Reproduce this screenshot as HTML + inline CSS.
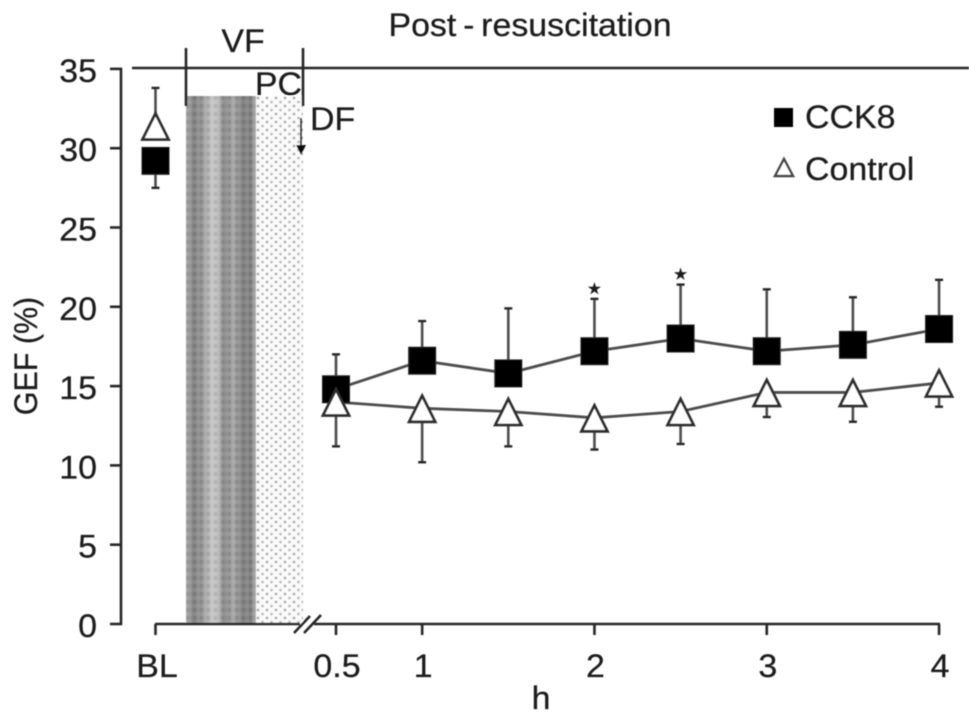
<!DOCTYPE html>
<html lang="en">
<head>
<meta charset="utf-8">
<title>GEF chart</title>
<style>
html,body{margin:0;padding:0;background:#fff;width:969px;height:720px;overflow:hidden}
svg{display:block}
text{font-family:"Liberation Sans",sans-serif;fill:#1c1c1c;stroke:#1c1c1c;stroke-width:0.25}
</style>
</head>
<body>
<svg id="chart" xmlns="http://www.w3.org/2000/svg" width="969" height="720" viewBox="0 0 969 720">
<defs>
<filter id="soft" x="-5%" y="-5%" width="110%" height="110%"><feGaussianBlur stdDeviation="0.55"/></filter>
<linearGradient id="vf-stripes" x1="0" x2="1" y1="0" y2="0">
<stop offset="0" stop-color="#b0b0b0"/>
<stop offset="0.1" stop-color="#858585"/>
<stop offset="0.22" stop-color="#959595"/>
<stop offset="0.35" stop-color="#c2c2c2"/>
<stop offset="0.43" stop-color="#c8c8c8"/>
<stop offset="0.55" stop-color="#8a8a8a"/>
<stop offset="0.68" stop-color="#a8a8a8"/>
<stop offset="0.8" stop-color="#858585"/>
<stop offset="0.93" stop-color="#858585"/>
<stop offset="1" stop-color="#b0b0b0"/>
</linearGradient>
<pattern id="vf-grain" width="7" height="8" patternUnits="userSpaceOnUse" x="186" y="96">
<rect x="0" y="0" width="3" height="4" fill="#000" opacity="0.10"/>
<rect x="3.5" y="4" width="3" height="4" fill="#fff" opacity="0.08"/>
</pattern>
<pattern id="pc-dots" width="9" height="8" patternUnits="userSpaceOnUse" x="256" y="96">
<rect width="9" height="8" fill="#fafafa"/>
<circle cx="2" cy="2" r="1.4" fill="#ababab"/>
<circle cx="6.5" cy="6" r="1.4" fill="#bcbcbc"/>
</pattern>
</defs>
<g id="plot" filter="url(#soft)"></g>
</svg>
<script>
const categories = ['BL', 0.5, 1, 1.5, 2, 2.5, 3, 3.5, 4];
const cck8Values = [29.2, 14.8, 16.6, 15.8, 17.2, 18.0, 17.2, 17.6, 18.6];
const cck8ErrorEnds = [27.5, 17.0, 19.1, 19.9, 20.5, 21.4, 21.1, 20.6, 21.7];
const controlValues = [31.4, 14.0, 13.6, 13.4, 13.0, 13.4, 14.6, 14.6, 15.2];
const controlErrorEnds = [33.8, 11.2, 10.2, 11.2, 11.0, 11.35, 13.05, 12.75, 13.7];
const significant = [false, false, false, false, true, true, false, false, false];
const yTicks = [0, 5, 10, 15, 20, 25, 30, 35];
const xTickLabels = ['BL', 0.5, 1, 2, 3, 4];

const NS = 'http://www.w3.org/2000/svg';
const plot = document.getElementById('plot');
const INK = '#262626';
const LINE = '#4d4d4d';

function xScale(c) {
  return c === 'BL' ? 155.5 : 336 + (c - 0.5) * 172.3;
}
function yScale(v) {
  return 624 - v * 15.86;
}
function make(tag, attrs, text) {
  const el = document.createElementNS(NS, tag);
  for (const k in attrs) el.setAttribute(k, attrs[k]);
  if (text !== undefined) el.textContent = text;
  plot.appendChild(el);
  return el;
}
function line(x1, y1, x2, y2, name, color, width) {
  const el = make('line', { x1, y1, x2, y2, stroke: color || INK, 'stroke-width': width || 2.6 });
  
  
  return el;
}
function label(x, y, str, size, anchor, name) {
  const el = make('text', { 'font-size': size, 'text-anchor': anchor, transform: `translate(${x} ${y}) scale(1.06 1)` }, str);
  
  
  return el;
}
function trianglePoints(cx, cy, halfW, up, down) {
  return `${cx},${cy - up} ${cx + halfW},${cy + down} ${cx - halfW},${cy + down}`;
}

/* shaded phases */
let r = make('rect', { x: 186, y: 96, width: 70, height: 528, fill: 'url(#vf-stripes)' });


r = make('rect', { x: 186, y: 96, width: 70, height: 528, fill: 'url(#vf-grain)' });


r = make('rect', { x: 256, y: 96, width: 47, height: 528, fill: 'url(#pc-dots)' });



/* top line and phase markers */
line(132, 68, 969, 68, 'top-reference-line');
line(186, 48, 186, 106, 'vf-start-marker');
line(303, 48, 303, 106, 'vf-end-marker');

/* y axis */
line(121, 68, 121, 625, 'y-axis-line');
yTicks.forEach(function (t) {
  line(110, yScale(t), 122, yScale(t), 'y-tick-' + t);
  label(97, yScale(t) + 13, String(t), 32, 'end', 'y-tick-label-' + t);
});
const yTitle = make('text', { 'font-size': 32, 'text-anchor': 'middle', transform: 'translate(37 356) rotate(-90) scale(0.95 1)' }, 'GEF (%)');



/* x axis */
line(155, 624, 300, 624, 'x-axis-line-left');
line(314, 624, 940, 624, 'x-axis-line-right');
line(294, 633, 310, 616, 'axis-break-slash-1');
line(304, 633, 321, 615, 'axis-break-slash-2');
xTickLabels.forEach(function (c) {
  const x = xScale(c);
  line(x, 624, x, 635, 'x-tick-' + c);
  label(c === 'BL' ? 157 : x + 1, 677, String(c), 32, 'middle', 'x-tick-label-' + c);
});
label(541, 709, 'h', 32, 'middle', 'x-axis-title');

/* annotations */
label(243, 52, 'VF', 32, 'middle', 'vf-label');
label(278.5, 95, 'PC', 32, 'middle', 'pc-label');
label(310, 130, 'DF', 32, 'start', 'df-label');
label(530, 36, 'Post\u2009-\u2009resuscitation', 32, 'middle', 'post-resuscitation-label');
line(301, 118, 301, 148, 'df-arrow-shaft', INK, 2);
const arrowHead = make('polygon', { points: '296,145 306,145 301,155', fill: '#111' });



/* error bars */
categories.forEach(function (c, i) {
  const x = xScale(c);
  line(x, yScale(cck8Values[i]), x, yScale(cck8ErrorEnds[i]), 'cck8-error-bar-' + c, LINE, 2.6);
  line(x - 4, yScale(cck8ErrorEnds[i]), x + 4, yScale(cck8ErrorEnds[i]), 'cck8-error-cap-' + c, INK, 2.4);
  line(x, yScale(controlValues[i]), x, yScale(controlErrorEnds[i]), 'control-error-bar-' + c, LINE, 2.6);
  line(x - 4, yScale(controlErrorEnds[i]), x + 4, yScale(controlErrorEnds[i]), 'control-error-cap-' + c, INK, 2.4);
});

/* series lines (baseline is not connected) */
function seriesPath(values) {
  return categories.map(function (c, i) {
    return c === 'BL' ? null : xScale(c) + ',' + yScale(values[i]);
  }).filter(Boolean).join(' ');
}
const cck8Line = make('polyline', { points: seriesPath(cck8Values), fill: 'none', stroke: LINE, 'stroke-width': 2.8 });


const controlLine = make('polyline', { points: seriesPath(controlValues), fill: 'none', stroke: LINE, 'stroke-width': 2.8 });



/* markers */
categories.forEach(function (c, i) {
  const x = xScale(c);
  const sq = make('rect', { x: x - 13.5, y: yScale(cck8Values[i]) - 13.5, width: 27, height: 27, fill: '#000', stroke: '#222', 'stroke-width': 1 });
  
  
});
categories.forEach(function (c, i) {
  const tri = make('polygon', {
    points: trianglePoints(xScale(c), yScale(controlValues[i]), 13, 12.5, 13.5),
    fill: '#fff', stroke: '#2e2e2e', 'stroke-width': 2.8, 'stroke-linejoin': 'miter'
  });
  
  
});
categories.forEach(function (c, i) {
  if (significant[i]) {
    const star = make('text', { x: xScale(c), y: yScale(cck8ErrorEnds[i]) - 5, 'font-size': 16, 'text-anchor': 'middle' }, '\u2605');
    
    
  }
});

/* legend */
const legendSquare = make('rect', { x: 774, y: 108, width: 19, height: 19, fill: '#000' });


label(805, 128, 'CCK8', 32, 'start', 'legend-cck8-label');
const legendTriangle = make('polygon', { points: '784,159 793,176 775,176', fill: '#fff', stroke: '#444', 'stroke-width': 2.4 });


label(805, 180, 'Control', 32, 'start', 'legend-control-label');
</script>
</body>
</html>
